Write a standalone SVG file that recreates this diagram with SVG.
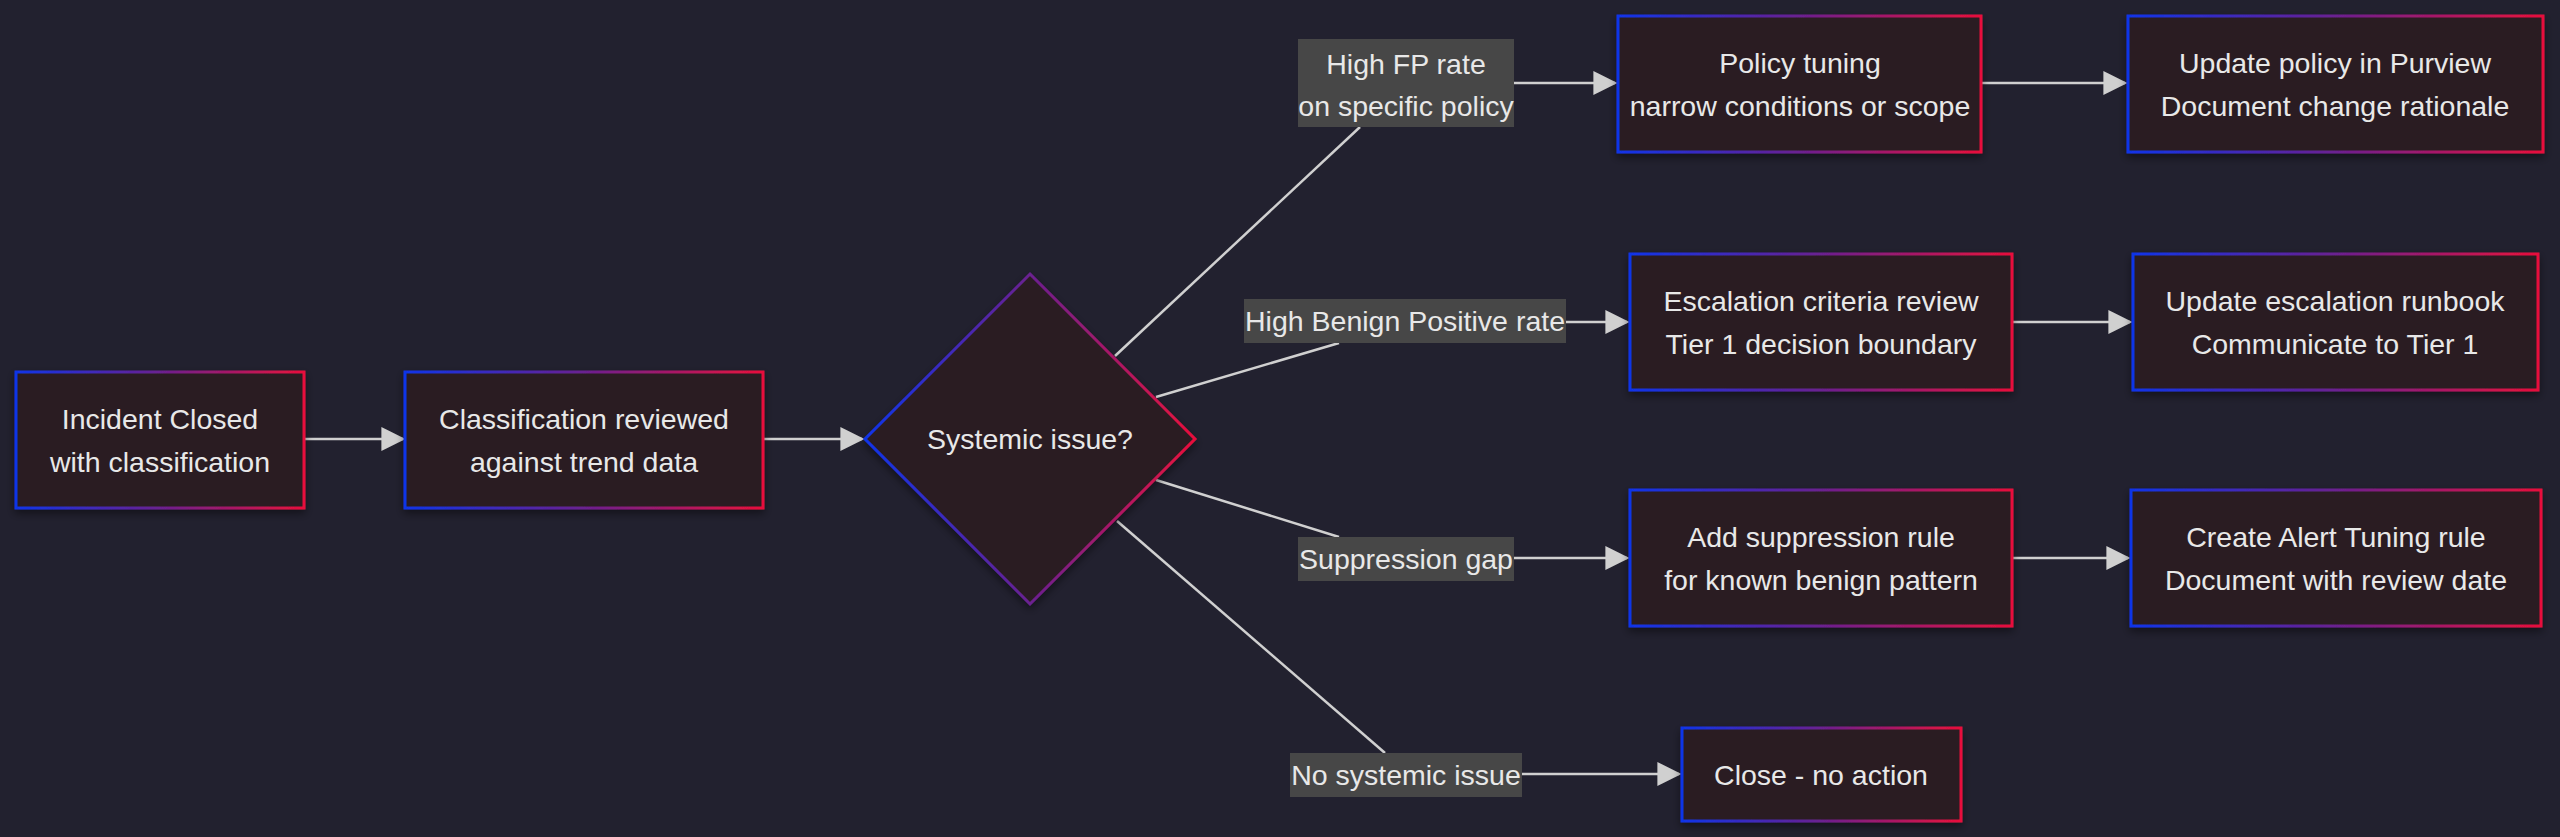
<svg xmlns="http://www.w3.org/2000/svg" width="2560" height="837" viewBox="0 0 2560 837">
<defs>
<linearGradient id="g" x1="0" y1="0" x2="1" y2="0"><stop offset="0" stop-color="#1034e8"/><stop offset="0.5" stop-color="#6a2090"/><stop offset="1" stop-color="#e8103c"/></linearGradient>
<filter id="sh" x="-10%" y="-10%" width="120%" height="130%"><feDropShadow dx="0" dy="4" stdDeviation="4" flood-color="#000" flood-opacity="0.45"/></filter>
<marker id="ar" viewBox="0 0 10 10" refX="9" refY="5" markerWidth="24" markerHeight="24" markerUnits="userSpaceOnUse" orient="auto"><path d="M0,0 L10,5 L0,10 z" fill="#d0d0d0"/></marker>
</defs>
<style>
.n{fill:#2b1f20;stroke:url(#g);stroke-width:3;filter:url(#sh)}
.t{font-family:"Liberation Sans",Arial,sans-serif;font-size:28.5px;fill:#e8e8e8;text-anchor:middle}
.e{stroke:#d0d0d0;stroke-width:2.5;fill:none}
.lb{fill:#474747}
</style>
<rect width="2560" height="837" fill="#22212f"/>
<g id="connectors">
<path class="e" d="M304,439 H403" marker-end="url(#ar)"/>
<path class="e" d="M763,439 H862" marker-end="url(#ar)"/>
<path class="e" d="M1115,356 L1360,127"/>
<path class="e" d="M1514,83 H1615" marker-end="url(#ar)"/>
<path class="e" d="M1156,397 L1339,343"/>
<path class="e" d="M1566,322 H1627" marker-end="url(#ar)"/>
<path class="e" d="M1156,480 L1339,537"/>
<path class="e" d="M1514,558 H1627" marker-end="url(#ar)"/>
<path class="e" d="M1117,521 L1385,753"/>
<path class="e" d="M1522,774 H1679" marker-end="url(#ar)"/>
<path class="e" d="M1981,83 H2125" marker-end="url(#ar)"/>
<path class="e" d="M2012,322 H2130" marker-end="url(#ar)"/>
<path class="e" d="M2012,558 H2128" marker-end="url(#ar)"/>
</g>
<g id="edge-labels">
<rect class="lb" x="1298" y="39" width="216" height="88"/>
<text class="t" x="1406" y="74">High FP rate</text><text class="t" x="1406" y="116">on specific policy</text>
<rect class="lb" x="1244" y="299" width="322" height="44"/>
<text class="t" x="1405" y="331">High Benign Positive rate</text>
<rect class="lb" x="1298" y="537" width="216" height="44"/>
<text class="t" x="1406" y="569">Suppression gap</text>
<rect class="lb" x="1290" y="753" width="232" height="44"/>
<text class="t" x="1406" y="785">No systemic issue</text>
</g>
<g id="A"><rect class="n" x="16" y="372" width="288" height="136"/><text class="t" x="160" y="429">Incident Closed</text><text class="t" x="160" y="472">with classification</text></g>
<g id="B"><rect class="n" x="405" y="372" width="358" height="136"/><text class="t" x="584" y="429">Classification reviewed</text><text class="t" x="584" y="472">against trend data</text></g>
<g id="C"><path class="n" d="M1030,274 L1195,439 L1030,604 L865,439 Z"/><text class="t" x="1030" y="449">Systemic issue?</text></g>
<g id="D"><rect class="n" x="1618" y="16" width="363" height="136"/><text class="t" x="1800" y="73">Policy tuning</text><text class="t" x="1800" y="116">narrow conditions or scope</text></g>
<g id="E"><rect class="n" x="2128" y="16" width="415" height="136"/><text class="t" x="2335" y="73">Update policy in Purview</text><text class="t" x="2335" y="116">Document change rationale</text></g>
<g id="F"><rect class="n" x="1630" y="254" width="382" height="136"/><text class="t" x="1821" y="311">Escalation criteria review</text><text class="t" x="1821" y="354">Tier 1 decision boundary</text></g>
<g id="G"><rect class="n" x="2133" y="254" width="405" height="136"/><text class="t" x="2335" y="311">Update escalation runbook</text><text class="t" x="2335" y="354">Communicate to Tier 1</text></g>
<g id="H"><rect class="n" x="1630" y="490" width="382" height="136"/><text class="t" x="1821" y="547">Add suppression rule</text><text class="t" x="1821" y="590">for known benign pattern</text></g>
<g id="I"><rect class="n" x="2131" y="490" width="410" height="136"/><text class="t" x="2336" y="547">Create Alert Tuning rule</text><text class="t" x="2336" y="590">Document with review date</text></g>
<g id="J"><rect class="n" x="1682" y="728" width="279" height="93"/><text class="t" x="1821" y="785">Close - no action</text></g>
</svg>
